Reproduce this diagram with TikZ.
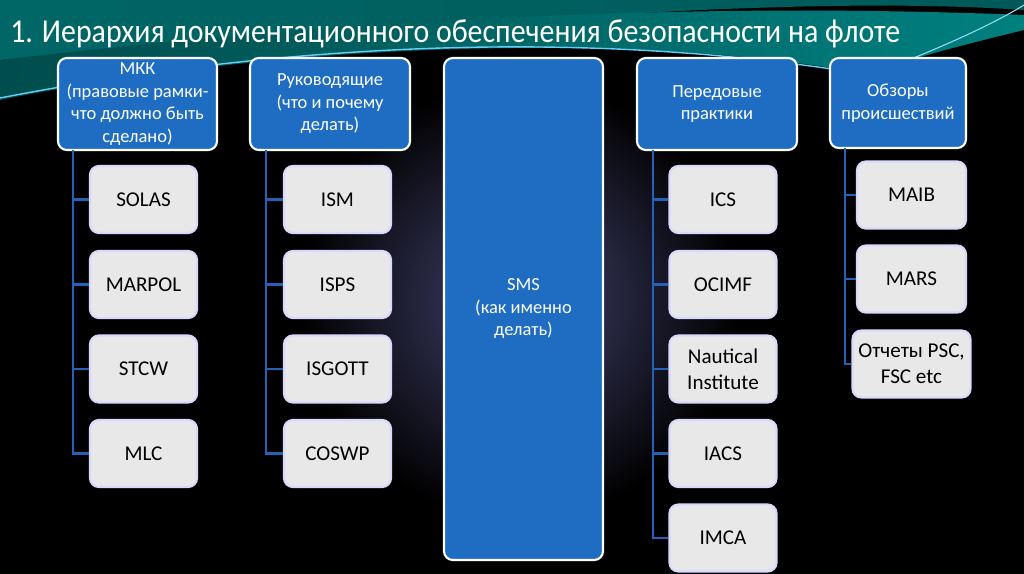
\documentclass[tikz,border=0pt]{standalone}
\usepackage{fontspec}
\setmainfont{Carlito}
\begin{document}
\begin{tikzpicture}[x=0.02cm,y=-0.02cm]
\definecolor{hb}{HTML}{1F6DC2}
\definecolor{lk}{HTML}{2462B8}
\tikzset{
  hdr/.style={draw=white,line width=1.2pt,fill=hb,rounded corners=5pt,text=white,align=center,font=\fontsize{10.5}{12.8}\selectfont,inner sep=2pt},
  kid/.style={draw=white!85!blue,line width=1.2pt,fill=gray!18,rounded corners=5pt,text=black,align=center,font=\fontsize{12}{15}\selectfont,minimum width=107*0.02cm,minimum height=67*0.02cm},
  link/.style={draw=lk,line width=1.3pt}}
\fill[black] (0,0) rectangle (1024,574);
\useasboundingbox (0,0) rectangle (1024,574);
\shade[inner color=blue!25!gray!70!black,outer color=black] (520,300) circle[radius=220*0.02cm];
\shade[left color=cyan!40!black,right color=teal!70!black] (0,0) -- (1024,0) -- (1024,10) .. controls (800,-5) and (500,20) .. (0,60) -- cycle;
\shade[left color=teal!60!black,right color=cyan!50!black] (0,60) .. controls (300,25) and (650,0) .. (1024,15) -- (1024,30) .. controls (900,60) and (880,70) .. (870,75) .. controls (700,40) and (350,30) .. (0,100) -- cycle;
\draw[cyan!60,line width=0.8pt] (0,98) .. controls (300,40) and (600,30) .. (870,75);
\draw[cyan!40,line width=0.6pt] (870,75) .. controls (950,45) and (1000,20) .. (1024,5);
\node[anchor=west,text=white,font=\fontsize{19}{22}\selectfont,xscale=0.895,inner sep=0pt] (title) at (10,34) {1. Иерархия документационного обеспечения безопасности на флоте};
\node[hdr,minimum width=159*0.02cm,minimum height=92*0.02cm] (h1) at (137.5,104) {МКК\\(правовые рамки-\\что должно быть\\сделано)};
\node[hdr,minimum width=160*0.02cm,minimum height=92*0.02cm] (h2) at (330,104) {Руководящие\\(что и почему\\делать)};
\node[hdr,minimum width=159*0.02cm,minimum height=502*0.02cm] (sms) at (523.5,309) {SMS\\(как именно\\делать)};
\node[hdr,minimum width=160*0.02cm,minimum height=92*0.02cm] (h4) at (717,104) {Передовые\\практики};
\node[hdr,minimum width=136*0.02cm,minimum height=90*0.02cm] (h5) at (898,103) {Обзоры\\происшествий};
\foreach \n/\t/\y in {a1/SOLAS/199.5,a2/MARPOL/284.5,a3/STCW/369,a4/MLC/453.5}{\node[kid] (\n) at (143.5,\y) {\t};}
\foreach \n/\t/\y in {b1/ISM/199.5,b2/ISPS/284.5,b3/ISGOTT/369,b4/COSWP/453.5}{\node[kid] (\n) at (337.5,\y) {\t};}
\foreach \n/\t/\y in {d1/ICS/199.5,d2/OCIMF/284.5,d3/{Nautical\\Institute}/369,d4/IACS/453.5,d5/IMCA/538}{\node[kid] (\n) at (723,\y) {\t};}
\foreach \n/\t/\y in {e1/MAIB/195,e2/MARS/279,e3/{Отчеты PSC,\\FSC etc}/364}{\node[kid,minimum width=109*0.02cm] (\n) at (911.5,\y) {\t};}
\coordinate (c1) at (73,150); \coordinate (c2) at (266,150); \coordinate (c4) at (653,150); \coordinate (c5) at (845,148);
\draw[link] (c1) |- (a4.west); \foreach \n in {a1,a2,a3} \draw[link] (c1|-\n.west) -- (\n.west);
\draw[link] (c2) |- (b4.west); \foreach \n in {b1,b2,b3} \draw[link] (c2|-\n.west) -- (\n.west);
\draw[link] (c4) |- (d5.west); \foreach \n in {d1,d2,d3,d4} \draw[link] (c4|-\n.west) -- (\n.west);
\draw[link] (c5) |- (e3.west); \foreach \n in {e1,e2} \draw[link] (c5|-\n.west) -- (\n.west);
\end{tikzpicture}
\end{document}
